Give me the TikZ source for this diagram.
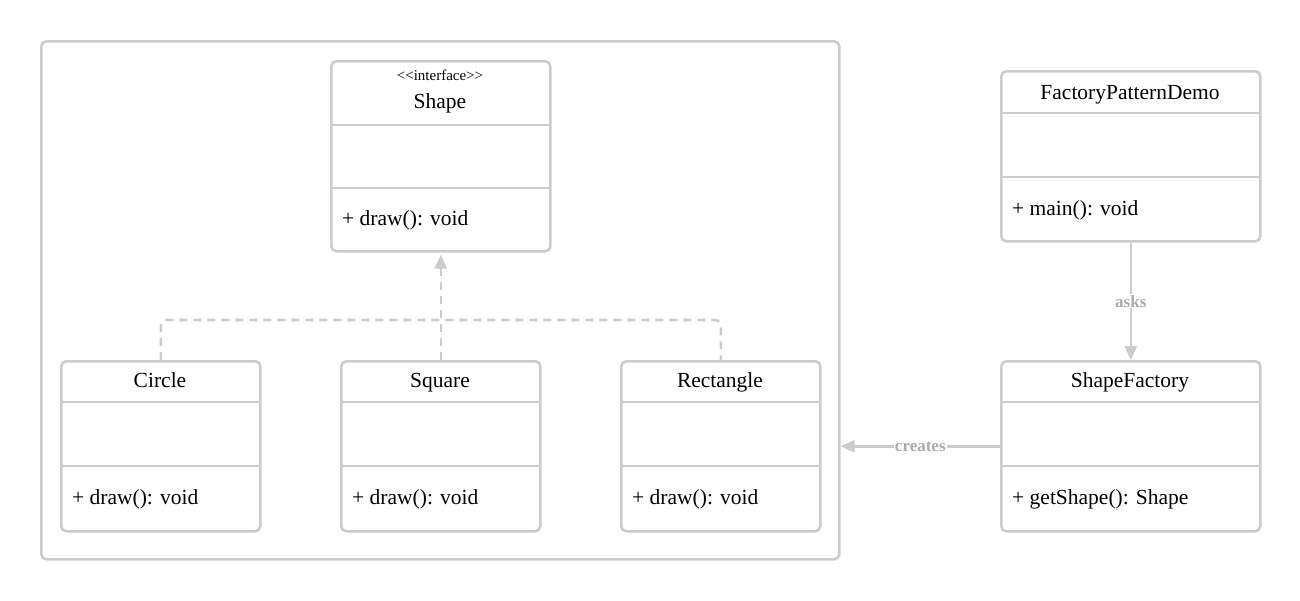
\documentclass[tikz,border=0pt]{standalone}
\usepackage{fontspec}
\setmainfont{Liberation Serif}
\usetikzlibrary{arrows.meta,calc}
\definecolor{lgray}{HTML}{CCCCCC}
\definecolor{lblgray}{HTML}{AAAAAA}
\tikzset{
  box/.style={draw=lgray, line width=2.6pt, rounded corners=5pt, anchor=north west, inner sep=0pt},
  divider/.style={draw=lgray, line width=2.6pt},
  nametxt/.style={font=\fontsize{21.5}{24}\selectfont, inner sep=0pt, anchor=base},
  stereo/.style={font=\fontsize{15}{17}\selectfont, inner sep=0pt, anchor=base},
  methtxt/.style={font=\fontsize{21.5}{24}\selectfont, inner sep=0pt, anchor=base west},
  conn/.style={draw=lgray, line width=2.6pt},
  tip/.style={-{Triangle[width=12pt,length=14pt]}},
  lbl/.style={font=\bfseries\fontsize{17}{19}\selectfont, text=lblgray, fill=white, inner sep=1pt},
}
\begin{document}
\begin{tikzpicture}[x=1pt,y=-1pt]
\useasboundingbox (0,0) rectangle (1300,600);
% package frame
\node[box, minimum width=798pt, minimum height=518pt] (pkg) at (40,40) {};
% Shape interface
\node[box, minimum width=219pt, minimum height=190pt] (shape) at (330,60) {};
\draw[divider] (330,125) -- (549,125);
\draw[divider] (330,188) -- (549,188);
\node[stereo] (shapest) at (440,80) {{<}{<}interface{>}{>}};
\node[nametxt] (shapenm) at (440,108) {Shape};
\node[methtxt] (shapem) at (342,225) {+ draw(): void};
% Circle
\node[box, minimum width=199pt, minimum height=170pt] (circ) at (60,360) {};
\draw[divider] (60,402) -- (259,402);
\draw[divider] (60,466) -- (259,466);
\node[nametxt] (circnm) at (160,387) {Circle};
\node[methtxt] (circm) at (72,504) {+ draw(): void};
% Square
\node[box, minimum width=199pt, minimum height=170pt] (sq) at (340,360) {};
\draw[divider] (340,402) -- (539,402);
\draw[divider] (340,466) -- (539,466);
\node[nametxt] (sqnm) at (440,387) {Square};
\node[methtxt] (sqm) at (352,504) {+ draw(): void};
% Rectangle
\node[box, minimum width=199pt, minimum height=170pt] (rect) at (620,360) {};
\draw[divider] (620,402) -- (819,402);
\draw[divider] (620,466) -- (819,466);
\node[nametxt] (rectnm) at (720,387) {Rectangle};
\node[methtxt] (rectm) at (632,504) {+ draw(): void};
% FactoryPatternDemo
\node[box, minimum width=259pt, minimum height=170pt] (demo) at (1000,70) {};
\draw[divider] (1000,113) -- (1259,113);
\draw[divider] (1000,177) -- (1259,177);
\node[nametxt] (demonm) at (1130,99) {FactoryPatternDemo};
\node[methtxt] (demom) at (1012,215) {+ main(): void};
% ShapeFactory
\node[box, minimum width=259pt, minimum height=170pt] (sf) at (1000,360) {};
\draw[divider] (1000,402) -- (1259,402);
\draw[divider] (1000,466) -- (1259,466);
\node[nametxt] (sfnm) at (1130,387) {ShapeFactory};
\node[methtxt] (sfm) at (1012,504) {+ getShape(): Shape};
% realization
\draw[conn, dash pattern=on 8pt off 6pt, rounded corners=6pt] (circ.north) -- ++(0,-40) -| (rect.north);
\draw[conn, dash pattern=on 8pt off 6pt, tip] (sq.north) -- ($(shape.south)+(0,2)$);
% asks
\draw[conn, tip] (demo.south) -- node[lbl] (asks) {asks} (sf.north);
% creates
\draw[conn, tip] (sf.west) -- node[lbl, pos=0.5] (creates) {creates} (sf.west -| pkg.east);
\end{tikzpicture}
\end{document}
